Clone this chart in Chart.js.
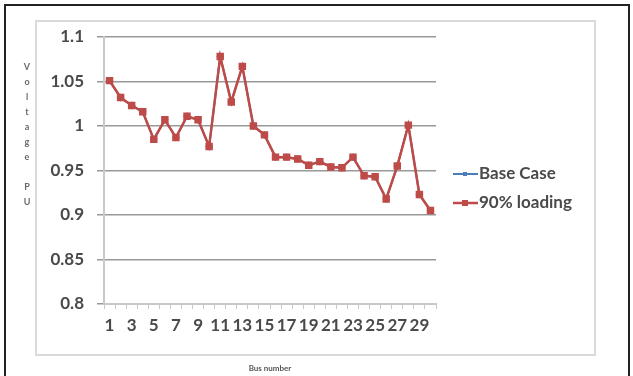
<!DOCTYPE html>
<html>
<head>
<meta charset="utf-8">
<script src="https://cdn.jsdelivr.net/npm/chart.js@4.4.1/dist/chart.umd.min.js"></script>
<style>
  body { margin: 0; background: #fff; }
  #wrap { position: relative; width: 633px; height: 376px; overflow: hidden; }
  #outer { position: absolute; left: 4px; top: 4px; width: 626px; height: 380px; border: 2px solid #222; box-sizing: border-box; }
  #inner { position: absolute; left: 35px; top: 20px; width: 561px; height: 336px; border: 2px solid #d9d9d9; box-sizing: border-box; }
  #c { position: absolute; left: 0; top: 0; }
</style>
</head>
<body>
<div id="wrap">
  <div id="outer"></div>
  <div id="inner"></div>
  <canvas id="c" width="633" height="376"></canvas>
</div>
<script>
const busNumbers = [];
for (let i = 1; i <= 30; i++) busNumbers.push(String(i));

const baseCase = [1.051, 1.032, 1.023, 1.016, 0.985, 1.007, 0.987, 1.011, 1.007, 0.977,
  1.078, 1.027, 1.067, 1.000, 0.990, 0.965, 0.965, 0.963, 0.956, 0.960,
  0.954, 0.953, 0.965, 0.944, 0.943, 0.918, 0.955, 1.001, 0.923, 0.905];
const loading90 = [1.051, 1.032, 1.023, 1.016, 0.985, 1.007, 0.987, 1.011, 1.007, 0.977,
  1.078, 1.027, 1.067, 1.000, 0.990, 0.965, 0.965, 0.963, 0.956, 0.960,
  0.954, 0.953, 0.965, 0.944, 0.943, 0.918, 0.955, 1.001, 0.923, 0.905];

const yTitle = ["V", "o", "l", "t", "a", "g", "e", "", "P", "U"];
const seriesNames = ["Base Case", "90% loading"];

const blue = "#4a7ebb";
const red = "#be4b48";
const textColor = "#4a4a4a";

// stacked y title + legend drawn by hand
const extras = {
  id: "extras",
  afterDraw(chart) {
    const ctx = chart.ctx;
    ctx.save();
    ctx.fillStyle = "#6a6a6a";
    ctx.font = "bold 9px Lato";
    ctx.textAlign = "center";
    ctx.textBaseline = "middle";
    yTitle.forEach((ch, i) => ctx.fillText(ch, 27, 67 + i * 15));

    const rows = [174, 203];
    chart.data.datasets.forEach((ds, i) => {
      const y = rows[i];
      ctx.strokeStyle = ds.borderColor;
      ctx.lineWidth = ds.borderWidth;
      ctx.beginPath();
      ctx.moveTo(453, y);
      ctx.lineTo(478, y);
      ctx.stroke();
      ctx.fillStyle = ds.backgroundColor;
      const s = i === 0 ? 4 : 6;
      ctx.fillRect(465 - s / 2, y - s / 2, s, s);
      ctx.fillStyle = textColor;
      ctx.font = "bold 17px Lato";
      ctx.textAlign = "left";
      ctx.fillText(ds.label, 479, y);
    });
    ctx.restore();
  }
};

new Chart(document.getElementById("c"), {
  type: "line",
  data: {
    labels: busNumbers,
    datasets: [
      {
        label: seriesNames[0],
        data: baseCase,
        borderColor: blue,
        backgroundColor: blue,
        borderWidth: 2,
        pointStyle: "rectRot",
        pointRadius: 2.5,
        tension: 0,
        order: 2
      },
      {
        label: seriesNames[1],
        data: loading90,
        borderColor: red,
        backgroundColor: red,
        borderWidth: 2.5,
        pointStyle: "rect",
        pointRadius: 3.5,
        tension: 0,
        order: 1
      }
    ]
  },
  options: {
    responsive: false,
    animation: false,
    events: [],
    layout: { padding: { top: 37, right: 197, left: 0, bottom: 0 } },
    plugins: { legend: { display: false }, tooltip: { enabled: false } },
    scales: {
      x: {
        offset: true,
        grid: { display: true, drawOnChartArea: false, offset: true, tickLength: 5, color: "#c8c8c8" },
        border: { color: "#c8c8c8", width: 2 },
        ticks: {
          autoSkip: false,
          maxRotation: 0,
          padding: 6,
          color: textColor,
          font: { family: "Lato", size: 17, weight: "bold" },
          callback: (v, i) => (i % 2 === 0 ? busNumbers[i] : "")
        },
        title: {
          display: true,
          text: "Bus number",
          color: "#555",
          font: { family: "Lato", size: 8, weight: "bold" },
          padding: { top: 0, bottom: 3 }
        },
        afterFit: (s) => { s.height = 72; }
      },
      y: {
        min: 0.8,
        max: 1.1,
        ticks: {
          stepSize: 0.05,
          padding: 13,
          color: textColor,
          font: { family: "Lato", size: 17, weight: "bold" },
          callback: (v) => String(+v.toFixed(2))
        },
        grid: { color: "#999", lineWidth: 1.5, tickLength: 7 },
        border: { color: "#c8c8c8", width: 2 },
        afterFit: (s) => { s.width = 104; }
      }
    }
  },
  plugins: [extras]
});
</script>
</body>
</html>
